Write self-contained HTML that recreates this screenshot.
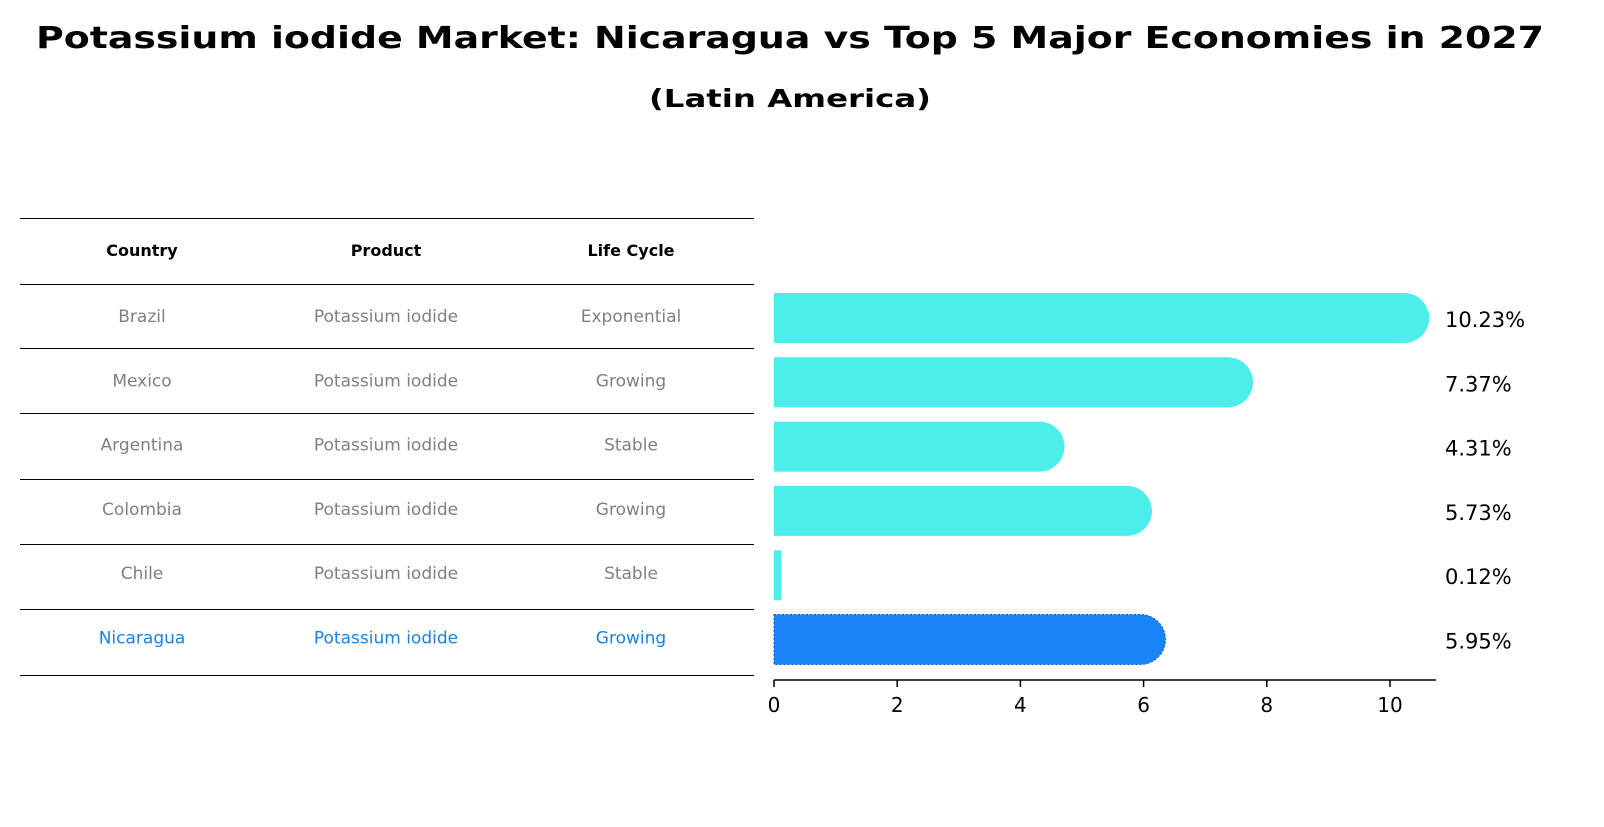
<!DOCTYPE html>
<html><head><meta charset="utf-8"><style>
body{margin:0;background:#fff;font-family:"DejaVu Sans","Liberation Sans",sans-serif}
#wrap{position:relative;width:1604px;height:823px}
svg text{font-family:"DejaVu Sans","Liberation Sans",sans-serif}
</style></head><body><div id="wrap">
<svg id="svg" width="1604" height="823" xmlns="http://www.w3.org/2000/svg">
<text x="790" y="48" text-anchor="middle" font-size="30" font-weight="bold" textLength="1508" lengthAdjust="spacingAndGlyphs">Potassium iodide Market: Nicaragua vs Top 5 Major Economies in 2027</text>
<text x="790" y="107" text-anchor="middle" font-size="25" font-weight="bold" textLength="282" lengthAdjust="spacingAndGlyphs">(Latin America)</text>
<g id="table"></g>
<g id="bars"></g>
</svg></div>
<script>
const countries=["Brazil","Mexico","Argentina","Colombia","Chile","Nicaragua"];
const products=["Potassium iodide","Potassium iodide","Potassium iodide","Potassium iodide","Potassium iodide","Potassium iodide"];
const lifeCycles=["Exponential","Growing","Stable","Growing","Stable","Growing"];
const values=[10.23,7.37,4.31,5.73,0.12,5.95];
const ticks=[0,2,4,6,8,10];
const NS="http://www.w3.org/2000/svg";
function mk(tag,attrs,parent,text){const e=document.createElementNS(NS,tag);for(const k in attrs)e.setAttribute(k,attrs[k]);if(text!==undefined)e.textContent=text;parent.appendChild(e);return e;}
const tbl=document.getElementById('table'),bars=document.getElementById('bars');
const x0=774,sx=61.6;const xs=v=>x0+v*sx;
const rowY=i=>318+i*64.3;
const lineYs=[218,284,348,413,479,544,609,675];
lineYs.forEach(y=>{const l=mk('line',{x1:20,x2:754,y1:y+0.5,y2:y+0.5,stroke:'#000','stroke-width':1},tbl);

});
const colX=[142,386,631];
["Country","Product","Life Cycle"].forEach((h,j)=>{const t=mk('text',{x:colX[j],y:256,'text-anchor':'middle','font-size':16,'font-weight':'bold'},tbl,h);

});
countries.forEach((c,i)=>{const col=i===countries.length-1?'#1a82e0':'#808080';
[c,products[i],lifeCycles[i]].forEach((v,j)=>{const t=mk('text',{x:colX[j],y:rowY(i)+4,'text-anchor':'middle','font-size':17,fill:col},tbl,v);

});});
const h=50,r=25;
values.forEach((v,i)=>{const last=i===values.length-1;const fill=last?'#1984f5':'#4beeea';
const y=rowY(i)-h/2;const w=xs(v)-x0;
let d;
if(w>r){d=`M${x0},${y} H${xs(v)} A${r},${r} 0 0 1 ${xs(v)},${y+h} H${x0} Z`;}
else{d=`M${x0},${y} h${w} v${h} h${-w} Z`;}
const p=mk('path',{d:d,fill:fill},bars);
if(last){p.setAttribute('stroke','#1560c0');p.setAttribute('stroke-dasharray','2,2');p.setAttribute('stroke-width','1');}


const t=mk('text',{x:1445,y:rowY(i)+9,'font-size':21},bars,v.toFixed(2)+'%');

});
const ax=mk('line',{x1:x0,x2:1436,y1:680,y2:680,stroke:'#000','stroke-width':1.5},bars);


ticks.forEach(t=>{const l=mk('line',{x1:xs(t),x2:xs(t),y1:680,y2:687,stroke:'#000','stroke-width':1.5},bars);


const tx=mk('text',{x:xs(t),y:712,'text-anchor':'middle','font-size':20},bars,String(t));

});
</script></body></html>
